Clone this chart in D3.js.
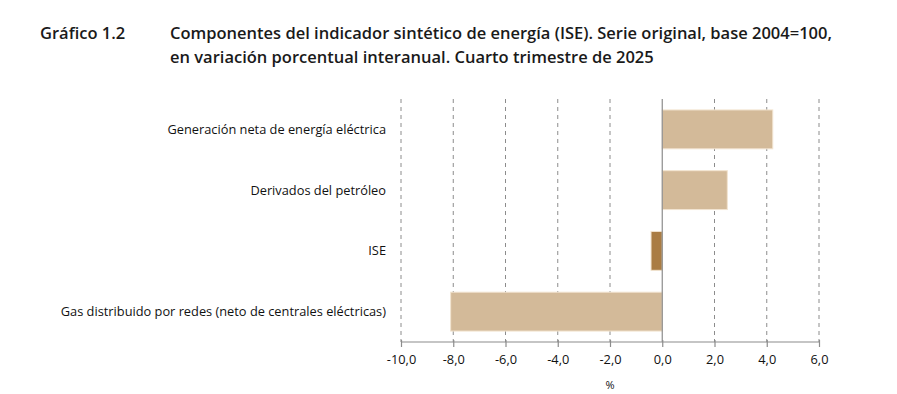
<!DOCTYPE html>
<html>
<head>
<meta charset="utf-8">
<script src="https://cdn.jsdelivr.net/npm/d3@7/dist/d3.min.js"></script>
<style>
  body { margin: 0; background: #fff; }
  svg { display: block; }
  .title { font-family: "Open Sans", sans-serif; font-weight: 600; font-size: 16.5px; fill: #1a1a1a; }
  .lbl { font-family: "Open Sans", sans-serif; font-size: 12.8px; fill: #111; }
</style>
</head>
<body>
<div id="chart"></div>
<script>
var categories = ['Generación neta de energía eléctrica', 'Derivados del petróleo', 'ISE', 'Gas distribuido por redes (neto de centrales eléctricas)'];
var values = [4.23, 2.49, -0.43, -8.1];
var highlight = ['ISE'];
var tickValues = [-10, -8, -6, -4, -2, 0, 2, 4, 6];

var svgSize = { width: 897, height: 394 };
var plot = { left: 401, right: 819, top: 99, bottom: 342 };

var svg = d3.select('#chart').append('svg')
    .attr('width', svgSize.width)
    .attr('height', svgSize.height);

// title
svg.append('text').attr('class', 'title').attr('x', 40).attr('y', 39).text('Gráfico 1.2');
svg.append('text').attr('class', 'title').attr('x', 170).attr('y', 39)
    .text('Componentes del indicador sintético de energía (ISE). Serie original, base 2004=100,');
svg.append('text').attr('class', 'title').attr('x', 170).attr('y', 63)
    .text('en variación porcentual interanual. Cuarto trimestre de 2025');

var x = d3.scaleLinear().domain([-10, 6]).range([plot.left, plot.right]);
var y = d3.scaleBand().domain(categories).range([plot.top, plot.bottom])
    .paddingInner(0.36).paddingOuter(0.18);

// dashed gridlines
svg.append('g').selectAll('line')
    .data(tickValues.filter(function(d) { return d !== 0; }))
    .enter().append('line')
    .attr('x1', function(d) { return x(d); })
    .attr('x2', function(d) { return x(d); })
    .attr('y1', plot.top)
    .attr('y2', plot.bottom)
    .attr('stroke', '#8c8c8c')
    .attr('stroke-width', 1)
    .attr('stroke-dasharray', '4,4');

// bars
svg.append('g').selectAll('rect')
    .data(values)
    .enter().append('rect')
    .attr('x', function(d) { return x(Math.min(0, d)); })
    .attr('y', function(d, i) { return y(categories[i]); })
    .attr('width', function(d) { return Math.abs(x(d) - x(0)); })
    .attr('height', y.bandwidth())
    .attr('fill', function(d, i) { return highlight.indexOf(categories[i]) >= 0 ? '#aa7c43' : '#d3ba99'; })
    .attr('stroke', '#f2e4d0')
    .attr('stroke-width', 1);

// zero line
svg.append('line')
    .attr('x1', x(0)).attr('x2', x(0))
    .attr('y1', plot.top).attr('y2', plot.bottom)
    .attr('stroke', '#8c8c8c').attr('stroke-width', 1.2);

// x axis
var xAxis = svg.append('g')
    .attr('transform', 'translate(0,' + plot.bottom + ')')
    .call(d3.axisBottom(x).tickValues(tickValues).tickSize(5).tickPadding(8)
        .tickFormat(function(d) { return d3.format('.1f')(d).replace('.', ',').replace('−', '-'); }));
xAxis.select('.domain').attr('stroke', '#8c8c8c').attr('stroke-width', 1.2).attr('d', 'M' + plot.left + ',0H' + plot.right);
xAxis.selectAll('.tick line').attr('stroke', '#8c8c8c').attr('stroke-width', 1.2).attr('y1', -2);
xAxis.selectAll('.tick text').attr('class', 'lbl').attr('fill', '#111');

svg.append('text').attr('class', 'lbl')
    .attr('x', (plot.left + plot.right) / 2).attr('y', 389)
    .attr('text-anchor', 'middle').style('font-size', '11px')
    .text('%');

// category labels
svg.append('g').selectAll('text')
    .data(categories)
    .enter().append('text')
    .attr('class', 'lbl')
    .attr('x', 386)
    .attr('y', function(d) { return y(d) + y.bandwidth() / 2; })
    .attr('dy', '0.35em')
    .attr('text-anchor', 'end')
    .text(function(d) { return d; });
</script>
</body>
</html>
